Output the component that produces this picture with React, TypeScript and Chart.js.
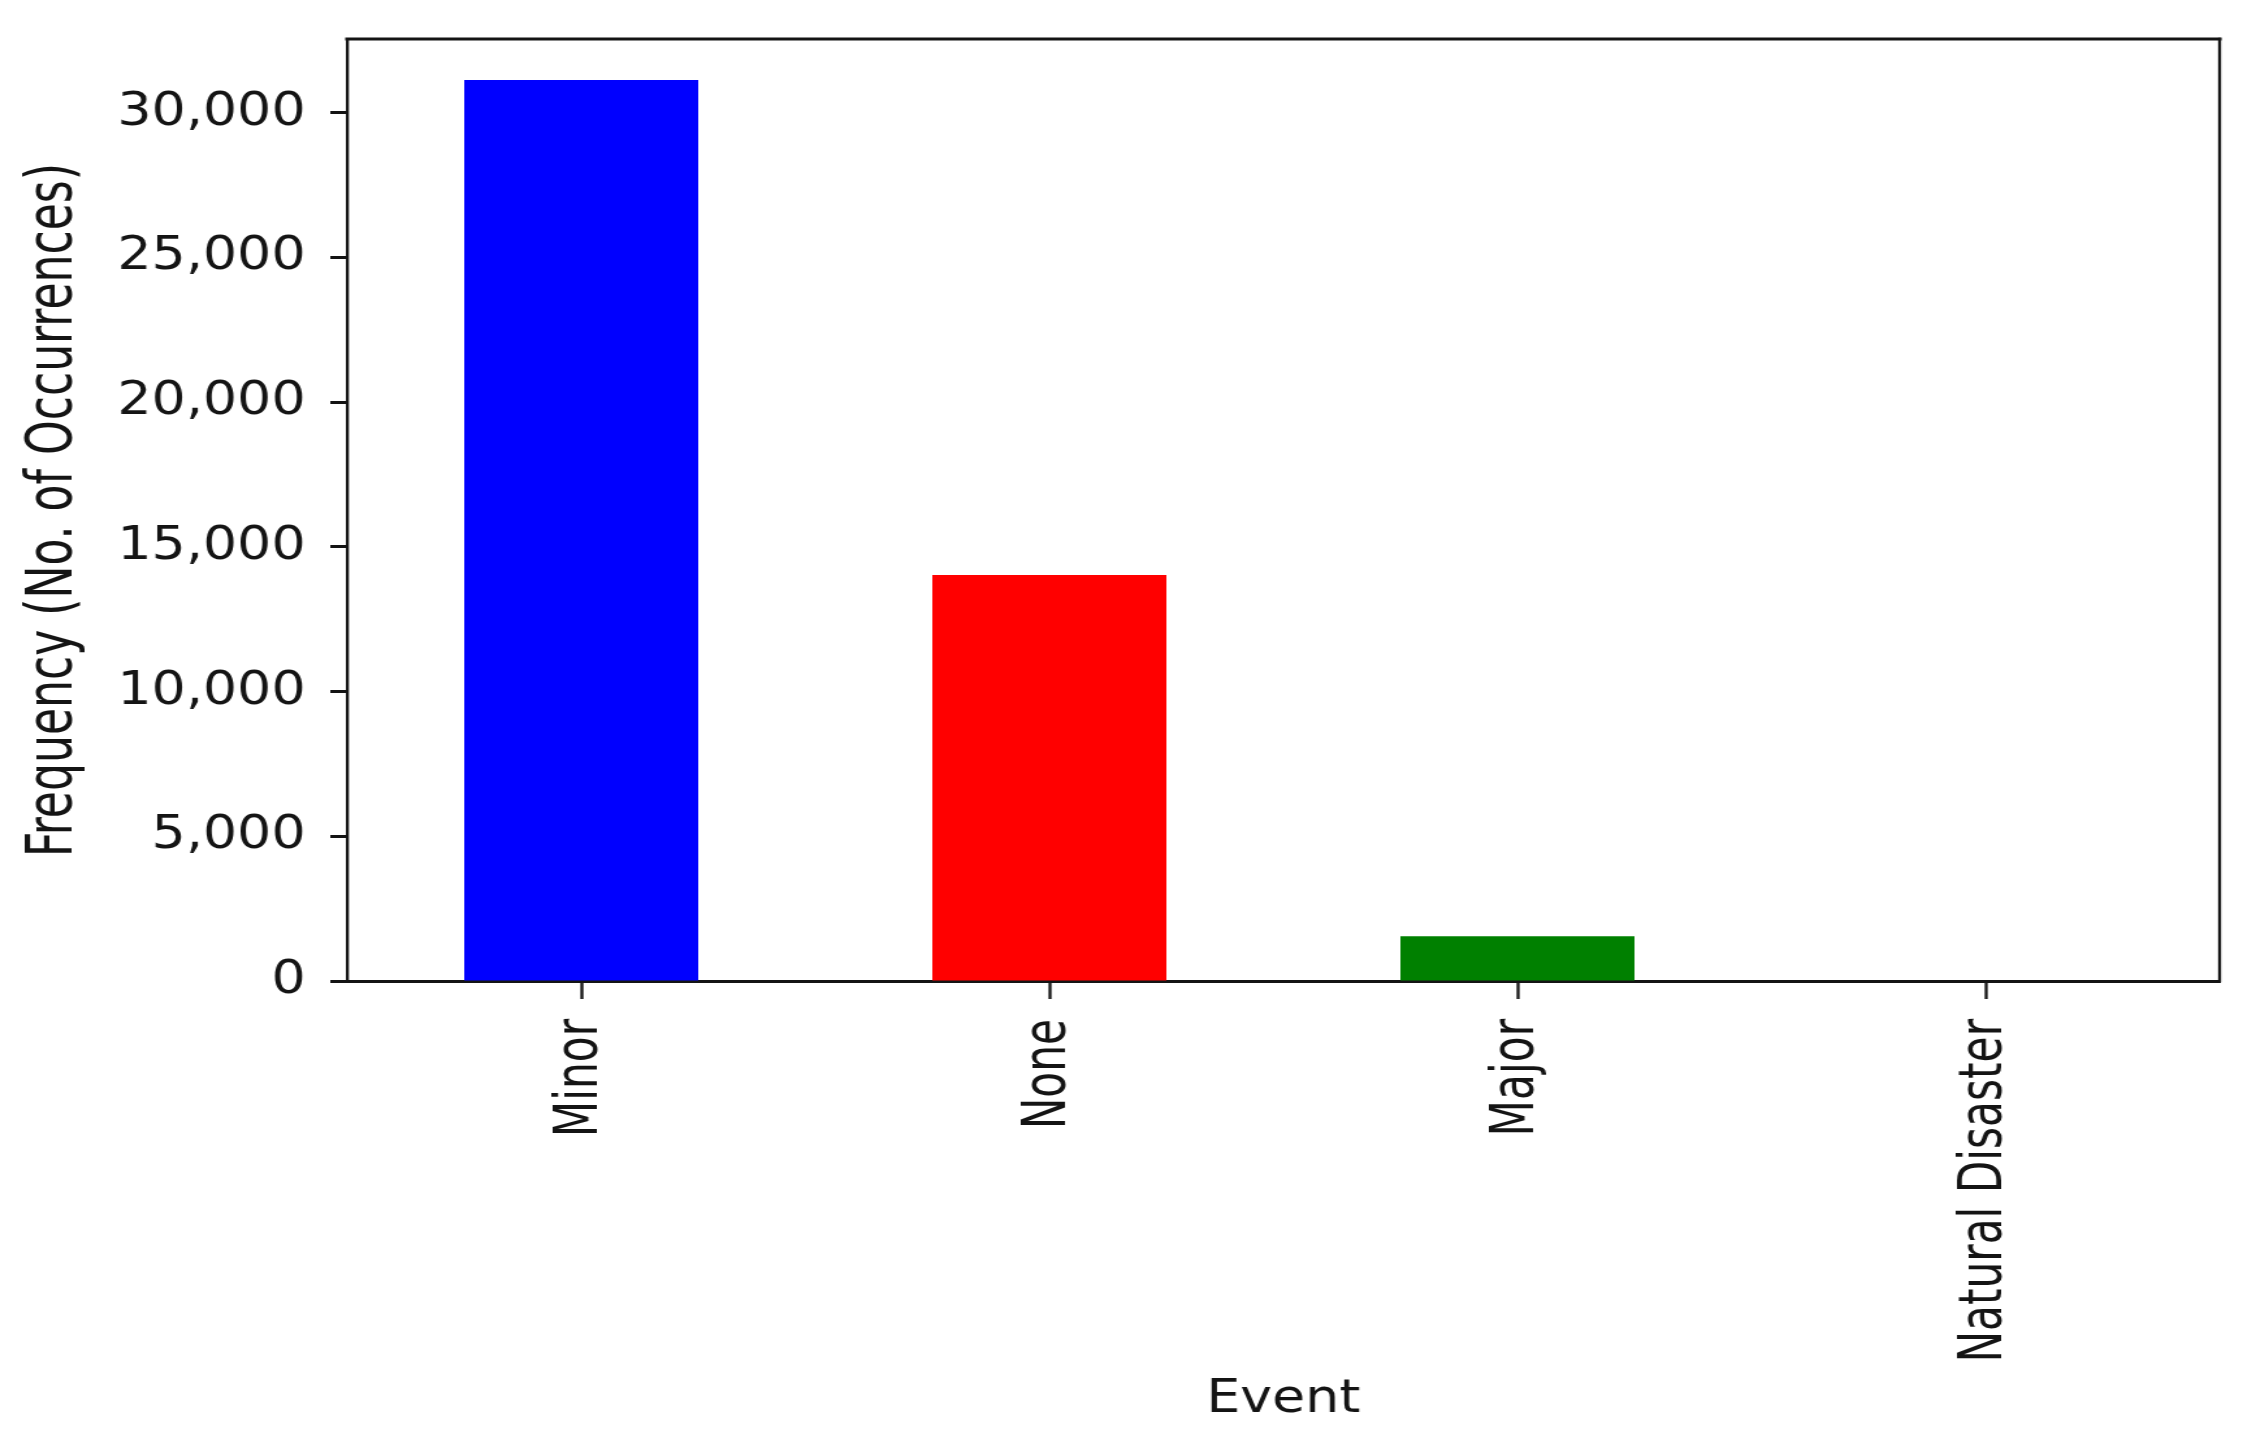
import React, { useEffect, useRef } from "react";
import { Chart, registerables } from "chart.js";

Chart.register(...registerables);

// ---- Data ----
const categories = ["Minor", "None", "Major", "Natural Disaster"];
const frequencies = [31130, 14030, 1550, 15];
const barColors = ["#0000ff", "#ff0000", "#008000", "#000000"];
const yTickValues = [0, 5000, 10000, 15000, 20000, 25000, 30000];
const yAxisMax = 32550;
const xAxisTitle = "Event";
const yAxisTitle = "Frequency (No. of Occurrences)";

// ---- Rendering geometry (canvas is drawn narrow and stretched horizontally, like the reference) ----
const CSS_W = 2256;
const CSS_H = 1456;
const STRETCH = 1.3;
const CANVAS_W = Math.round(CSS_W / STRETCH);
const FONT = "'DejaVu Sans Condensed', 'DejaVu Sans', sans-serif";
const INK = "#141414";

const frameBorder = {
  id: "frameBorder",
  afterDraw(chart: any) {
    const { ctx, chartArea } = chart;
    const { left, right, top, bottom } = chartArea;
    ctx.save();
    ctx.strokeStyle = INK;
    ctx.lineCap = "square";
    ctx.lineWidth = 3;
    ctx.beginPath();
    ctx.moveTo(left, top);
    ctx.lineTo(right, top);
    ctx.stroke();
    ctx.lineWidth = 3 / STRETCH;
    ctx.beginPath();
    ctx.moveTo(right, top);
    ctx.lineTo(right, bottom);
    ctx.stroke();
    ctx.restore();
  },
};

export default function App() {
  const ref = useRef<HTMLCanvasElement>(null);

  useEffect(() => {
    const canvas = ref.current;
    if (!canvas) return;
    const chart = new Chart(canvas, {
      type: "bar",
      data: {
        labels: categories,
        datasets: [
          {
            data: frequencies,
            backgroundColor: barColors,
            borderWidth: 0,
            barPercentage: 0.5,
            categoryPercentage: 1.0,
          },
        ],
      },
      options: {
        responsive: false,
        animation: false,
        devicePixelRatio: 1,
        layout: { padding: { top: 39, left: 0, right: 28, bottom: 0 } },
        plugins: {
          legend: { display: false },
          tooltip: { enabled: false },
        },
        scales: {
          x: {
            type: "category",
            offset: true,
            grid: {
              display: true,
              offset: false,
              drawOnChartArea: false,
              drawTicks: true,
              tickLength: 18,
              tickWidth: 3 / STRETCH,
              tickColor: INK,
            },
            border: { display: true, color: INK, width: 3 },
            ticks: {
              autoSkip: false,
              minRotation: 90,
              maxRotation: 90,
              padding: 20,
              color: INK,
              font: { family: FONT, size: 47 },
            },
            title: {
              display: true,
              text: xAxisTitle,
              color: INK,
              font: { family: FONT, size: 46 },
              padding: { top: 0, bottom: 28 },
            },
            afterFit(scale: any) {
              scale.height = CSS_H - 981;
              scale.paddingLeft = 0;
              scale.paddingRight = 0;
            },
          },
          y: {
            type: "linear",
            min: 0,
            max: yAxisMax,
            afterBuildTicks(scale: any) {
              scale.ticks = yTickValues.map((v) => ({ value: v }));
            },
            grid: {
              display: true,
              drawOnChartArea: false,
              drawTicks: true,
              tickLength: 13,
              tickWidth: 3,
              tickColor: INK,
            },
            border: { display: true, color: INK, width: 3 / STRETCH },
            ticks: {
              padding: 19,
              color: INK,
              font: { family: FONT, size: 46 },
              callback: (v: any) => Number(v).toLocaleString("en-US"),
            },
            title: {
              display: true,
              text: yAxisTitle,
              color: INK,
              font: { family: FONT, size: 49 },
              padding: { top: 13, bottom: 0 },
            },
            afterFit(scale: any) {
              scale.width = 267;
              scale.paddingTop = 0;
              scale.paddingBottom = 0;
            },
          },
        },
      },
      plugins: [frameBorder],
    });
    return () => chart.destroy();
  }, []);

  return (
    <div
      style={{
        position: "fixed",
        left: 0,
        top: 0,
        width: CSS_W,
        height: CSS_H,
        background: "#ffffff",
        overflow: "hidden",
      }}
    >
      <canvas
        ref={ref}
        width={CANVAS_W}
        height={CSS_H}
        style={{ width: `${CSS_W}px`, height: `${CSS_H}px`, display: "block" }}
      />
    </div>
  );
}
